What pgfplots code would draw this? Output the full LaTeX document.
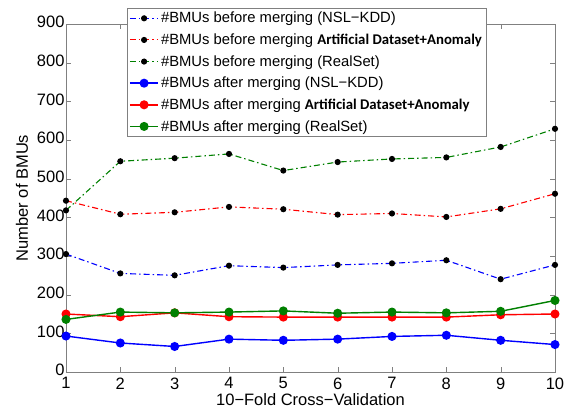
\documentclass[border=0pt]{standalone}
\usepackage{fontspec}
\setmainfont{Liberation Sans}
\newfontfamily\carlito{Carlito}
\usepackage{pgfplots}
\pgfplotsset{compat=1.18}
\definecolor{mblue}{rgb}{0,0,1}
\definecolor{mred}{rgb}{1,0,0}
\definecolor{mgreen}{rgb}{0,0.5,0}
\newcommand{\art}{{\carlito\bfseries Artificial Dataset+Anomaly}}
\begin{document}
\begin{tikzpicture}
\begin{axis}[
    scale only axis,
    anchor=south west,
    width=489pt, height=348pt,
    xmin=1, xmax=10, ymin=0, ymax=900,
    xtick={1,...,10},
    ytick={0,100,...,900},
    tick align=inside,
    axis line style={gray},
    tick style={gray, major tick length=5pt},
    ticklabel style={font=\fontsize{16.5}{16.5}\selectfont},
    yticklabel style={xshift=2pt, yshift=2pt},
    xticklabel style={yshift=-2pt},
    /pgf/number format/assume math mode=true,
    xlabel={10−Fold Cross−Validation},
    ylabel={Number of BMUs},
    label style={font=\fontsize{16.5}{16.5}\selectfont},
    xlabel style={at={(axis description cs:0.5,-0.08)}, anchor=center},
    ylabel style={at={(axis description cs:-0.09,0.5)}, anchor=center},
    legend style={at={(axis description cs:0.1247,1.046)}, anchor=north west,
        font=\fontsize{14.8}{14.8}\selectfont, draw=gray, row sep=5.4pt,
        inner sep=2pt},
    legend cell align={left},
    legend image code/.code={%
        \draw[mark repeat=2, mark phase=2] plot coordinates {(0cm,0cm) (0.5cm,0cm) (1cm,0cm)};},
    dd/.style={line width=1.1pt, dash pattern=on 6pt off 3pt on 1.5pt off 3pt,
        mark=*, mark size=2.5pt, mark options={solid, fill=black, draw=black}},
    sl/.style={line width=1.4pt, mark=*, mark size=3.8pt, mark options={solid}},
]
\addplot[dd, mblue] coordinates {(1,305)(2,255)(3,250)(4,275)(5,270)(6,277)(7,281)(8,289)(9,240)(10,277)};
\addplot[dd, mred] coordinates {(1,443)(2,408)(3,413)(4,427)(5,421)(6,407)(7,410)(8,401)(9,422)(10,461)};
\addplot[dd, mgreen] coordinates {(1,418)(2,545)(3,553)(4,564)(5,521)(6,543)(7,551)(8,555)(9,582)(10,629)};
\addplot[sl, mblue, mark options={fill=mblue}] coordinates {(1,93)(2,75)(3,66)(4,85)(5,82)(6,85)(7,92)(8,95)(9,82)(10,71)};
\addplot[sl, mred, mark options={fill=mred}] coordinates {(1,150)(2,143)(3,153)(4,143)(5,142)(6,142)(7,142)(8,142)(9,148)(10,150)};
\addplot[sl, mgreen, mark options={fill=mgreen}] coordinates {(1,136)(2,155)(3,153)(4,155)(5,158)(6,152)(7,155)(8,153)(9,157)(10,185)};
\legend{\#BMUs before merging (NSL−KDD),
    \#BMUs before merging \art,
    \#BMUs before merging (RealSet),
    \#BMUs after merging (NSL−KDD),
    \#BMUs after merging \art,
    \#BMUs after merging (RealSet)}
\end{axis}
\path (-66pt,-41pt) rectangle (502pt,372pt);
\end{tikzpicture}
\end{document}
